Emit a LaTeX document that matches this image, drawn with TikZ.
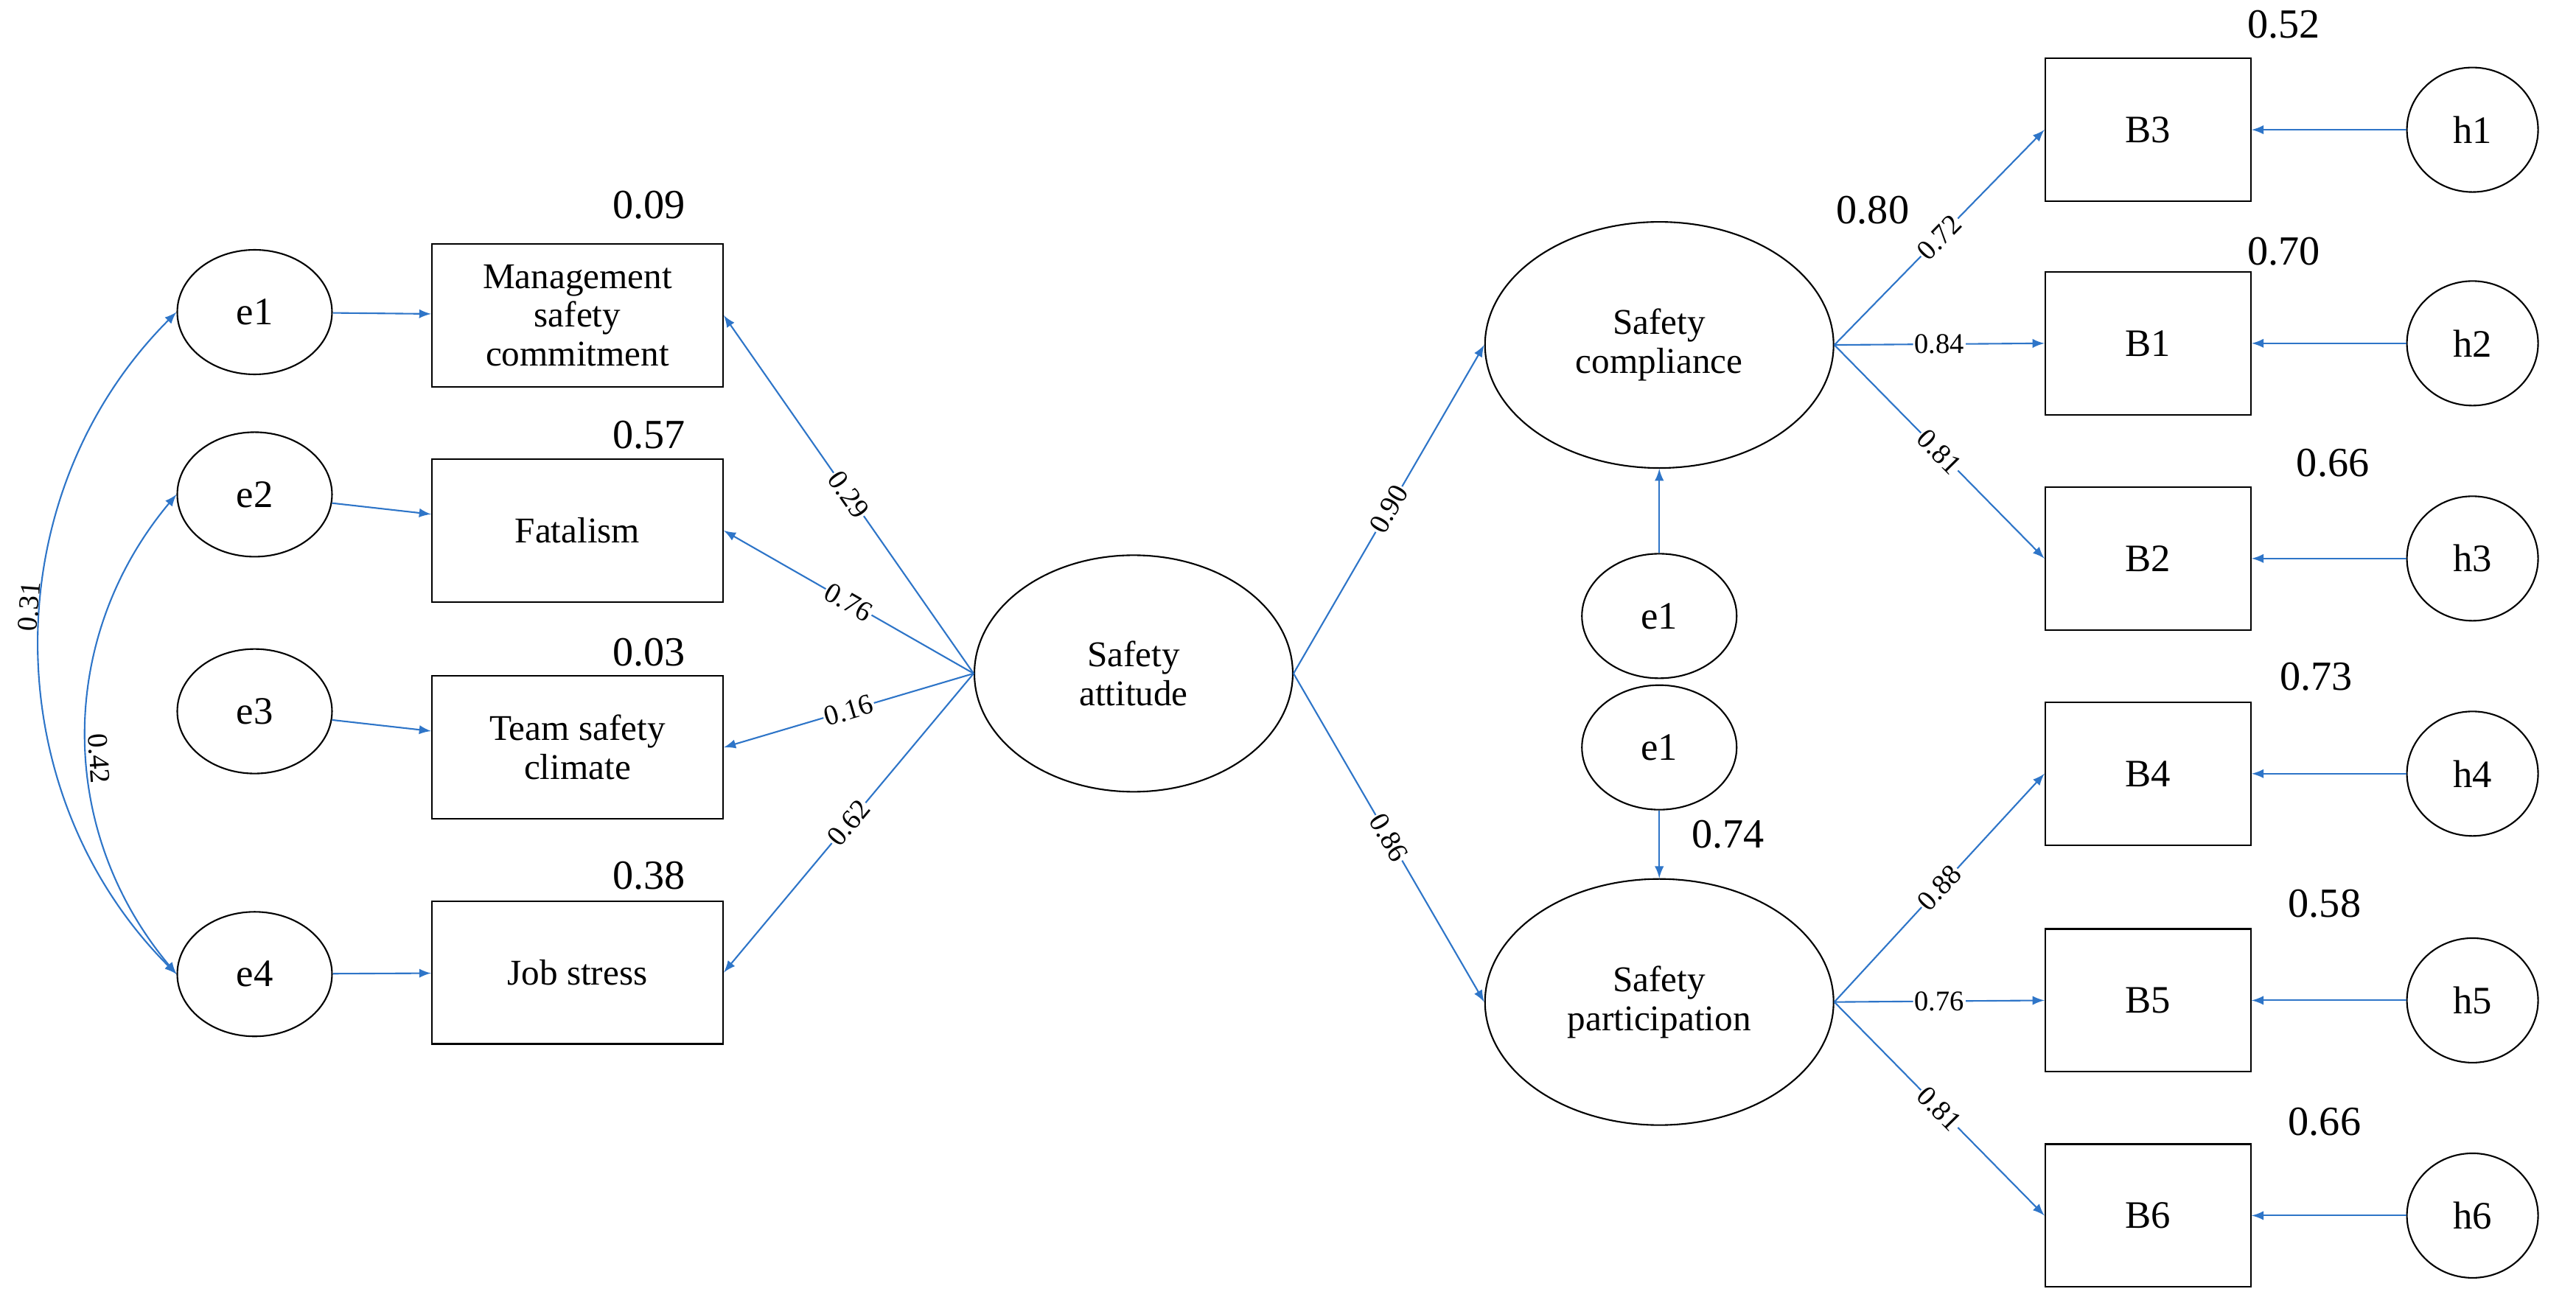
\documentclass[tikz,border=0pt]{standalone}
\usepackage{fontspec}
\setmainfont{Liberation Serif}
\usepackage{tikz}
\usetikzlibrary{calc,shapes.geometric}
\definecolor{pathblue}{HTML}{2E75C8}

\begin{document}
\begin{tikzpicture}[x=0.02229cm, y=-0.02229cm,
        box/.style={draw, line width=0.6pt, minimum width=3.95cm, minimum height=1.94cm, align=center, font=\fontsize{14}{15}\selectfont},
        rbox/.style={draw, line width=0.6pt, minimum width=2.79cm, minimum height=1.94cm, font=\fontsize{15}{16}\selectfont},
        err/.style={draw, ellipse, line width=0.6pt, minimum width=2.1cm, minimum height=1.69cm, inner sep=0pt, font=\fontsize{15}{16}\selectfont},
        herr/.style={draw, ellipse, line width=0.6pt, minimum width=1.78cm, minimum height=1.69cm, inner sep=0pt, font=\fontsize{15}{16}\selectfont},
        latent/.style={draw, ellipse, line width=0.6pt, minimum width=4.73cm, minimum height=3.34cm, align=center, inner sep=0pt, font=\fontsize{14}{15}\selectfont},
        path/.style={-latex, pathblue, line width=0.6pt},
        coef/.style={font=\fontsize{11}{12}\selectfont, sloped, fill=white, inner sep=0.5pt, text=black},
        rsq/.style={font=\fontsize{16}{17}\selectfont}]
    \useasboundingbox (0,0) rectangle (1568,791);

    % left indicators
    \node [err] (e1) at (155,190) {e1};
    \node [err] (e2) at (155,301) {e2};
    \node [err] (e3) at (155,433) {e3};
    \node [err] (e4) at (155,593) {e4};
    \node [box, inner sep=1pt] (msc) at (351.5,192) {Management\\safety\\commitment};
    \node [box] (fat) at (351.5,323) {Fatalism};
    \node [box] (tsc) at (351.5,455) {Team safety\\climate};
    \node [box] (js) at (351.5,592) {Job stress};
    \node [rsq] at (395,125) {0.09};
    \node [rsq] at (395,265) {0.57};
    \node [rsq] at (395,397) {0.03};
    \node [rsq] at (395,533) {0.38};

    % latent variables
    \node [latent, minimum width=4.32cm, minimum height=3.21cm] (sa) at (690,410) {Safety\\attitude};
    \node [latent] (sc) at (1010,210) {Safety\\compliance};
    \node [latent] (sp) at (1010,610) {Safety\\participation};
    \node [err] (z1) at (1010,375) {e1};
    \node [err] (z2) at (1010,455) {e1};
    \node [rsq] at (1140,128) {0.80};
    \node [rsq] at (1052,508) {0.74};

    % right indicators
    \node [rbox] (b3) at (1307.5,79) {B3};
    \node [rbox] (b1) at (1307.5,209) {B1};
    \node [rbox] (b2) at (1307.5,340) {B2};
    \node [rbox] (b4) at (1307.5,471) {B4};
    \node [rbox] (b5) at (1307.5,609) {B5};
    \node [rbox] (b6) at (1307.5,740) {B6};
    \node [rsq] at (1390,15) {0.52};
    \node [rsq] at (1390,153) {0.70};
    \node [rsq] at (1420,282) {0.66};
    \node [rsq] at (1410,412) {0.73};
    \node [rsq] at (1415,550) {0.58};
    \node [rsq] at (1415,683) {0.66};
    \node [herr] (h1) at (1505,79) {h1};
    \node [herr] (h2) at (1505,209) {h2};
    \node [herr] (h3) at (1505,340) {h3};
    \node [herr] (h4) at (1505,471) {h4};
    \node [herr] (h5) at (1505,609) {h5};
    \node [herr] (h6) at (1505,740) {h6};

    % error paths
    \draw [path] (e1) -- (msc);
    \draw [path] (e2) -- (fat);
    \draw [path] (e3) -- (tsc);
    \draw [path] (e4) -- (js);
    \foreach \h/\b in {h1/b3, h2/b1, h3/b2, h4/b4, h5/b5, h6/b6}
        \draw [path] (\h) -- (\b);
    \draw [path] (z1) -- (sc);
    \draw [path] (z2) -- (sp);

    % correlations
    \draw [latex-latex, pathblue, line width=0.6pt] (e1.west) to[bend right=45] node [coef, pos=0.45, fill=none, above] {0.31} (e4.west);
    \draw [latex-latex, pathblue, line width=0.6pt] (e2.west) to[bend right=40] node [coef, pos=0.55, fill=none, above] {0.42} (e4.west);

    % loadings
    \draw [path] (sa.west) -- node [coef] {0.29} (msc.east);
    \draw [path] (sa.west) -- node [coef] {0.76} (fat.east);
    \draw [path] (sa.west) -- node [coef] {0.16} (tsc.east);
    \draw [path] (sa.west) -- node [coef] {0.62} (js.east);
    \draw [path] (sa.east) -- node [coef] {0.90} (sc.west);
    \draw [path] (sa.east) -- node [coef] {0.86} (sp.west);
    \draw [path] (sc.east) -- node [coef] {0.72} (b3.west);
    \draw [path] (sc.east) -- node [coef] {0.84} (b1.west);
    \draw [path] (sc.east) -- node [coef] {0.81} (b2.west);
    \draw [path] (sp.east) -- node [coef] {0.88} (b4.west);
    \draw [path] (sp.east) -- node [coef] {0.76} (b5.west);
    \draw [path] (sp.east) -- node [coef] {0.81} (b6.west);
\end{tikzpicture}
\end{document}
